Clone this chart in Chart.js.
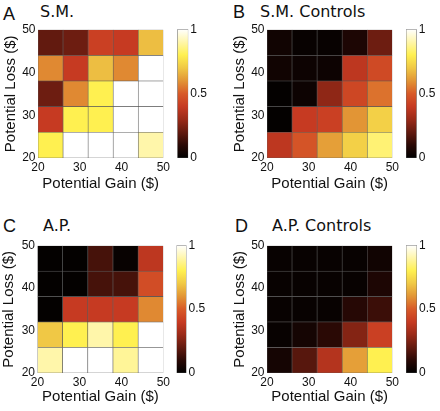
<!DOCTYPE html>
<html><head><meta charset="utf-8">
<script src="https://cdn.jsdelivr.net/npm/chart.js@4"></script>
<style>
html,body{margin:0;padding:0;background:#fff;}
#wrap{position:relative;width:440px;height:411px;overflow:hidden;background:#fff;}
canvas{position:absolute;}
.lt{position:absolute;font-family:'Liberation Sans',Arial,sans-serif;font-size:18px;line-height:1;color:#111;white-space:nowrap;}
.tt{position:absolute;font-family:'DejaVu Sans',sans-serif;font-size:16px;line-height:1;color:#111;white-space:nowrap;}
</style></head><body>
<div id="wrap">
  <div class="lt" style="left:3px;top:5px">A</div>
  <div class="tt" style="left:40px;top:3.5px">S.M.</div>
  <div class="lt" style="left:233px;top:3px">B</div>
  <div class="tt" style="left:260px;top:3.5px">S.M. Controls</div>
  <div class="lt" style="left:3px;top:217px">C</div>
  <div class="tt" style="left:43px;top:217.5px">A.P.</div>
  <div class="lt" style="left:235px;top:217px">D</div>
  <div class="tt" style="left:272px;top:217.5px">A.P. Controls</div>

  <canvas id="hA" width="172" height="180" style="left:0px;top:20px;width:172px;height:180px"></canvas>
  <canvas id="cA" width="50" height="150" style="left:170px;top:20px;width:50px;height:150px"></canvas>
  <canvas id="hB" width="172" height="180" style="left:229px;top:20px;width:172px;height:180px"></canvas>
  <canvas id="cB" width="41" height="150" style="left:399px;top:20px;width:41px;height:150px"></canvas>
  <canvas id="hC" width="172" height="175" style="left:0px;top:236px;width:172px;height:175px"></canvas>
  <canvas id="cC" width="50" height="150" style="left:170px;top:236px;width:50px;height:150px"></canvas>
  <canvas id="hD" width="172" height="175" style="left:229px;top:236px;width:172px;height:175px"></canvas>
  <canvas id="cD" width="41" height="150" style="left:399px;top:236px;width:41px;height:150px"></canvas>
</div>
<script>
// ---- data ----
const gainCenters = [23, 29, 35, 41, 47];          // cell centres, Potential Gain ($)
const lossCenters = [47, 41, 35, 29, 23];          // cell centres, Potential Loss ($), top row first
const halfCell = 3;
const axisTicks = [20, 30, 40, 50];
const colorbarTicks = [0, 0.5, 1];

// rows: top (loss 50) -> bottom (loss 20); columns: gain 20 -> 50
const smValues = [
  [0.20, 0.22, 0.42, 0.40, 0.68],
  [0.58, 0.40, 0.68, 0.58, 1.00],
  [0.22, 0.58, 0.80, 1.00, 1.00],
  [0.40, 0.80, 0.80, 1.00, 1.00],
  [0.80, 1.00, 1.00, 1.00, 0.90]
];
const smControlValues = [
  [0.04, 0.02, 0.02, 0.07, 0.22],
  [0.04, 0.03, 0.03, 0.38, 0.45],
  [0.01, 0.03, 0.28, 0.44, 0.54],
  [0.01, 0.40, 0.42, 0.60, 0.72],
  [0.38, 0.48, 0.62, 0.72, 0.84]
];
const apValues = [
  [0.01, 0.01, 0.15, 0.02, 0.38],
  [0.01, 0.01, 0.15, 0.15, 0.46],
  [0.01, 0.40, 0.40, 0.40, 0.58],
  [0.70, 0.80, 0.90, 0.80, 1.00],
  [0.90, 1.00, 1.00, 0.88, 1.00]
];
const apControlValues = [
  [0.02, 0.02, 0.02, 0.02, 0.04],
  [0.02, 0.02, 0.02, 0.02, 0.07],
  [0.02, 0.02, 0.02, 0.09, 0.13],
  [0.02, 0.05, 0.10, 0.26, 0.42],
  [0.05, 0.18, 0.36, 0.62, 0.80]
];

// ---- colour map (hot-like) ----
const cmapStops  = [0, 0.1, 0.2, 0.3, 0.4, 0.5, 0.6, 0.7, 0.8, 0.9, 1];
const cmapColors = ['#000000','#2a0905','#621a0f','#9a2a18','#c63a22','#d85a28','#e29535','#f0c845','#fff050','#fff6aa','#ffffff'];

function hexToRgb(h){ return [parseInt(h.substr(1,2),16), parseInt(h.substr(3,2),16), parseInt(h.substr(5,2),16)]; }
function colorFor(v){
  v = Math.max(0, Math.min(1, v));
  for (let i = 1; i < cmapStops.length; i++) {
    if (v <= cmapStops[i]) {
      const t = (v - cmapStops[i-1]) / (cmapStops[i] - cmapStops[i-1]);
      const a = hexToRgb(cmapColors[i-1]), b = hexToRgb(cmapColors[i]);
      const c = a.map((x, k) => Math.round(x + (b[k] - x) * t));
      return 'rgb(' + c.join(',') + ')';
    }
  }
  return cmapColors[cmapColors.length - 1];
}

Chart.defaults.font.family = "'Liberation Sans', Arial, sans-serif";
Chart.defaults.color = '#111';

function heatmap(id, values, L) {
  const data = [], colors = [];
  values.forEach((row, r) => row.forEach((v, c) => {
    data.push({x: gainCenters[c], y: [lossCenters[r] - halfCell, lossCenters[r] + halfCell]});
    colors.push(colorFor(v));
  }));
  return new Chart(document.getElementById(id), {
    type: 'bar',
    data: {datasets: [{data, backgroundColor: colors, borderColor: '#5a5a5a', borderWidth: 0.6,
      borderSkipped: false, barPercentage: 1, categoryPercentage: 1}]},
    options: {
      responsive: false, animation: false,
      layout: {padding: {top: L.pt, right: L.pr, left: 0, bottom: 0}},
      plugins: {legend: {display: false}, tooltip: {enabled: false}},
      scales: {
        x: {type: 'linear', min: 20, max: 50, offset: false,
          afterBuildTicks: s => { s.ticks = axisTicks.map(v => ({value: v})); },
          ticks: {padding: 2, maxRotation: 0, font: {size: 12}, color: '#111'},
          grid: {display: false, drawTicks: false}, border: {display: false},
          title: {display: true, text: 'Potential Gain ($)', font: {size: 15}, color: '#111', padding: {top: 0, bottom: L.xtp}},
          afterFit: s => { s.height = L.xH; }},
        y: {type: 'linear', min: 20, max: 50,
          afterBuildTicks: s => { s.ticks = axisTicks.map(v => ({value: v})); },
          ticks: {padding: 2.5, font: {size: 12}, color: '#111'},
          grid: {display: false, drawTicks: false}, border: {display: false},
          title: {display: true, text: 'Potential Loss ($)', font: {size: 15}, color: '#111', padding: {top: L.ytp, bottom: 0}},
          afterFit: s => { s.width = L.yW; }}
      }
    }
  });
}

function colorbar(id, L) {
  return new Chart(document.getElementById(id), {
    type: 'bar',
    data: {labels: [''], datasets: [{data: [[0, 1]],
      backgroundColor: c => {
        const ch = c.chart, a = ch.chartArea;
        if (!a) return '#000';
        const y = ch.scales.y;
        const g = ch.ctx.createLinearGradient(0, y.getPixelForValue(0), 0, y.getPixelForValue(1));
        cmapStops.forEach((s, i) => g.addColorStop(s, cmapColors[i]));
        return g;
      },
      borderColor: '#666', borderWidth: 0.7, borderSkipped: false, barPercentage: 1, categoryPercentage: 1}]},
    options: {
      responsive: false, animation: false,
      layout: {padding: {top: L.pt, left: L.pl, bottom: L.pb, right: 0}},
      plugins: {legend: {display: false}, tooltip: {enabled: false}},
      scales: {
        x: {display: false},
        y: {position: 'right', min: 0, max: 1,
          afterBuildTicks: s => { s.ticks = colorbarTicks.map(v => ({value: v})); },
          ticks: {padding: 2, font: {size: 12}, color: '#111', callback: v => String(v)},
          grid: {display: false, drawTicks: false}, border: {display: false},
          afterFit: s => { s.width = L.w; }}
      }
    }
  });
}

heatmap('hA', smValues,        {pt: 8.5, pr: 5,   yW: 38,   xH: 42,   xtp: 7, ytp: 2});
heatmap('hB', smControlValues, {pt: 9,   pr: 4.5, yW: 38,   xH: 42,   xtp: 7, ytp: 1.5});
heatmap('hC', apValues,        {pt: 8.5, pr: 5.5, yW: 37.5, xH: 38,   xtp: 5, ytp: 0});
heatmap('hD', apControlValues, {pt: 8,   pr: 4,   yW: 38,   xH: 38,   xtp: 5, ytp: 1.5});

colorbar('cA', {pt: 9, pl: 7.3, pb: 12, w: 31.7});
colorbar('cB', {pt: 9, pl: 7,   pb: 12, w: 23.3});
colorbar('cC', {pt: 8, pl: 6.5, pb: 13, w: 33.5});
colorbar('cD', {pt: 8, pl: 7,   pb: 13, w: 23});
</script>
</body></html>
